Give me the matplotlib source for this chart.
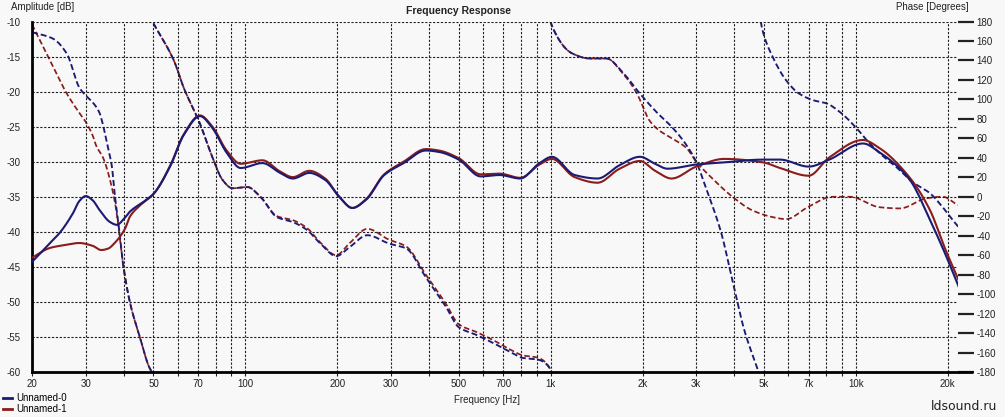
import numpy as np
import matplotlib
matplotlib.use('Agg')
import matplotlib.pyplot as plt
from matplotlib.ticker import FixedLocator, FixedFormatter
from matplotlib.lines import Line2D

plt.rcParams['font.family'] = ['Liberation Sans', 'DejaVu Sans']

# ---------------- data ----------------
series_names = ['Unnamed-0', 'Unnamed-1']

amp_f0 = [20, 22.9, 24.7, 27.2, 28.6, 30, 31.6, 33.3, 36.0, 37.9, 40.3, 41.9, 46.8, 50,
          56.8, 62.8, 71, 78, 86.8, 96.5, 113.7, 130, 143, 162, 182.6, 203, 224, 249, 285,
          330, 390, 430, 500, 590, 680, 795, 920, 1010, 1198, 1425, 1682, 1960, 2200,
          2414, 3000, 3705, 4970, 5640, 7000, 8180, 10540, 11980, 15020, 17480, 19550, 21800]
amp_0 = [-44.3, -41.6, -40.1, -37.4, -35.6, -34.9, -35.5, -36.9, -38.6, -39.0, -38.0, -37.1, -35.6, -34.6,
         -30.6, -26.2, -23.5, -25.2, -28.7, -30.9, -30.2, -31.6, -32.4, -31.6, -32.6, -35.0, -36.6, -35.4, -31.9,
         -30.2, -28.4, -28.6, -29.7, -32.1, -31.9, -32.4, -30.2, -29.3, -31.9, -32.4, -30.5, -29.3, -30.3,
         -31.0, -30.4, -30.1, -29.7, -29.7, -30.7, -29.7, -27.4, -28.7, -32.6, -38.3, -43.0, -48.0]

amp_f1 = [20, 22.9, 25.5, 28.6, 31.6, 33.7, 35.5, 37.3, 40.3, 41.9, 45, 50,
          56.8, 62.8, 71, 78, 86.8, 96.5, 113.7, 130, 143, 162, 182.6, 203, 224, 249, 285,
          330, 390, 430, 500, 590, 680, 795, 920, 1010, 1198, 1425, 1682, 1960, 2200,
          2490, 3000, 3705, 4970, 5640, 7000, 8180, 10540, 11980, 15020, 17480, 19550, 21800]
amp_1 = [-43.7, -42.3, -41.9, -41.6, -42.0, -42.6, -42.4, -41.6, -39.6, -37.8, -36.3, -34.6,
         -30.5, -26.1, -23.4, -25.0, -28.4, -30.3, -29.8, -31.4, -32.2, -31.3, -32.4, -35.0, -36.6, -35.3, -31.8,
         -30.0, -28.2, -28.4, -29.5, -31.8, -31.7, -32.3, -30.4, -29.6, -32.2, -33.0, -31.0, -29.9, -31.3,
         -32.4, -30.7, -29.6, -30.1, -30.9, -32.0, -29.4, -26.9, -28.1, -32.3, -36.9, -42.3, -47.1]

nan = np.nan
# wrapped phase, NaN separates wrap segments
ph_f0 = [20, 23.4, 26.0, 28.6, 30, 31.6, 33.3, 33.9, 35.5, 36.5, 37.4, 38.5, 39.7, 41.9, 45.1, 48.4, 49.4,
         nan,
         50, 58.3, 62.8, 71, 78, 84.3, 90.7, 101.5, 112, 127, 143, 159, 176, 198.5, 219, 251, 295, 336,
         390, 454, 500, 572, 646, 748, 812, 900, 993, 1000,
         nan,
         1000, 1008, 1180, 1342, 1525, 1720, 1960, 2222, 2506, 2786, 3000, 3230, 3620, 3940, 4310, 4776, 4800,
         nan,
         4880, 4925, 5350, 5910, 6510, 7270, 8000, 8865, 10075, 10860, 11980, 13620, 15360, 17480, 19250,
         20770, 21800]
ph_0 = [169, 162.5, 147, 112, 104, 97, 86, 78, 50, 32, 0, -31, -68, -109, -144, -175, -180,
        nan,
        178, 140, 112, 75, 40.5, 17, 8.7, 10, 0, -21, -26, -34, -48, -61, -52, -39.5, -48, -53,
        -82.6, -113, -134, -142, -150, -160.5, -165.6, -167, -176, -180,
        nan,
        180, 176, 147, 142, 142, 128, 106, 87, 71, 53, 35.6, 8.7, -37, -86, -137, -178, -180,
        nan,
        180, 173, 143, 119.5, 106, 99, 96, 87, 70, 58, 44.6, 30, 15, 3.6, -10.8,
        -24, -32]

ph_f1 = [20, 22.9, 26.0, 28.6, 29.7, 31.6, 32.5, 34.2, 36.5, 37.9, 38.5, 39.7, 41.9, 45.1, 48.4, 49.4,
         nan,
         50, 58.3, 62.8, 71, 78, 84.3, 90.7, 101.5, 112, 127, 143, 159, 176, 198.5, 219, 251, 295, 336,
         390, 454, 500, 572, 646, 748, 812, 900, 993, 1000,
         nan,
         1000, 1008, 1180, 1342, 1525, 1720, 1910, 2110, 2270, 2500, 2786, 3000, 3380, 3940, 4580, 5350,
         5910, 6950, 8370, 9550, 11980, 13930, 17070, 19250, 21560]
ph_1 = [177, 140, 106, 86, 79, 63, 52, 40, 10, -17, -34, -68, -109, -144, -175, -180,
        nan,
        178, 140, 112, 75, 40.5, 17, 8.7, 10, 0, -20, -24, -32, -47, -60, -48, -33, -44, -51,
        -80, -110, -131, -139, -147, -158, -163, -165, -176, -180,
        nan,
        180, 176, 147, 142, 142, 127, 107, 78, 68, 60, 50, 36, 19, 0, -14, -21,
        -23, -10.8, 0, 0, -10.8, -12, -1.5, 0, -8.7]

grid_freqs = [20, 30, 40, 50, 60, 70, 80, 90, 100, 200, 300, 400, 500, 600, 700, 800, 900,
              1000, 2000, 3000, 4000, 5000, 6000, 7000, 8000, 9000, 10000, 20000]
labeled = {20: '20', 30: '30', 50: '50', 70: '70', 100: '100', 200: '200', 300: '300',
           500: '500', 700: '700', 1000: '1k', 2000: '2k', 3000: '3k', 5000: '5k',
           7000: '7k', 10000: '10k', 20000: '20k'}
db_ticks = list(range(-60, -9, 5))
phase_ticks = list(range(-180, 181, 20))


# ---- smooth drawing of a measured curve (monotone cubic through the read points, in log-f) ----
def _pchip_seg(x, y, n=12):
    x = np.asarray(x, float)
    y = np.asarray(y, float)
    if len(x) < 3:
        return x, y
    h = np.diff(x)
    d = np.diff(y) / h
    m = np.zeros_like(y)
    for k in range(1, len(x) - 1):
        if d[k - 1] * d[k] > 0:
            w1 = 2 * h[k] + h[k - 1]
            w2 = h[k] + 2 * h[k - 1]
            m[k] = (w1 + w2) / (w1 / d[k - 1] + w2 / d[k])
    m[0] = d[0]
    m[-1] = d[-1]
    xs, ys = [], []
    for k in range(len(x) - 1):
        t = np.linspace(0, 1, n, endpoint=False)
        h00 = 2 * t**3 - 3 * t**2 + 1
        h10 = t**3 - 2 * t**2 + t
        h01 = -2 * t**3 + 3 * t**2
        h11 = t**3 - t**2
        xs.append(x[k] + t * h[k])
        ys.append(h00 * y[k] + h10 * h[k] * m[k] + h01 * y[k + 1] + h11 * h[k] * m[k + 1])
    xs.append([x[-1]])
    ys.append([y[-1]])
    return np.concatenate(xs), np.concatenate(ys)


def smooth(f, v):
    f = np.asarray(f, float)
    v = np.asarray(v, float)
    breaks = np.where(np.isnan(f))[0]
    starts = np.r_[0, breaks + 1]
    ends = np.r_[breaks, len(f)]
    outx, outy = [], []
    for s, e in zip(starts, ends):
        lx, ly = _pchip_seg(np.log10(f[s:e]), v[s:e])
        outx.append(10 ** lx)
        outy.append(ly)
        outx.append([np.nan])
        outy.append([np.nan])
    return np.concatenate(outx[:-1]), np.concatenate(outy[:-1])


# ---------------- style ----------------
BG = '#f8f8f8'
C0 = '#1b1b74'
C1 = '#8a1c1c'
W, H = 1005, 417

fig = plt.figure(figsize=(W / 100, H / 100), dpi=100, facecolor=BG)
ax = fig.add_axes([32 / W, 1 - 372 / H, (958 - 32) / W, (372 - 21.5) / H])
ax.set_xscale('log')
ax.set_xlim(20, 21600)
ax.set_ylim(-60, -10)

ax2 = ax.twinx()
ax2.set_ylim(-180, 180)

# phase (dashed) on ax2
dash = (0, (3.2, 1.6))
ax2.plot(*smooth(ph_f1, ph_1), color=C1, lw=1.25, ls=dash, zorder=2)
ax2.plot(*smooth(ph_f0, ph_0), color=C0, lw=1.35, ls=dash, zorder=3)

# amplitude (solid) on ax, drawn on top
ax.plot(*smooth(amp_f1, amp_1), color=C1, lw=1.5, zorder=4, solid_capstyle='round')
ax.plot(*smooth(amp_f0, amp_0), color=C0, lw=1.5, zorder=5, solid_capstyle='round')
ax.set_zorder(ax2.get_zorder() + 1)
ax.patch.set_visible(False)
ax2.patch.set_visible(False)

# grid
ax.xaxis.set_major_locator(FixedLocator(grid_freqs))
ax.xaxis.set_major_formatter(FixedFormatter([labeled.get(f, '') for f in grid_freqs]))
ax.xaxis.set_minor_locator(FixedLocator([]))
ax.set_yticks(db_ticks)
ax.set_yticklabels([str(v) for v in db_ticks])
ax.grid(True, which='major', color='#1e1e1e', lw=0.8, ls=(0, (2, 1.5)))
ax.tick_params(axis='x', length=3, width=0.8, direction='out', labelsize=7, pad=2, colors='#222222')
ax.tick_params(axis='y', length=0, labelsize=7, pad=8, colors='#222222')

for s in ['top', 'right']:
    ax.spines[s].set_visible(False)
ax.spines['left'].set_linewidth(2)
ax.spines['bottom'].set_linewidth(2)
ax.plot([1.0, 1.0162], [0, 0], transform=ax.transAxes, color='black', lw=2,
        clip_on=False, solid_capstyle='butt')

for s in ax2.spines.values():
    s.set_visible(False)
ax2.set_yticks(phase_ticks)
ax2.set_yticklabels([str(v) for v in phase_ticks])
ax2.tick_params(axis='y', length=11.5, width=1.6, direction='out', labelsize=7, pad=2,
                colors='#222222')

# texts
fig.text(11 / W, 1 - 6.5 / H, 'Amplitude [dB]', fontsize=7, ha='left', va='center', color='#222222')
fig.text(969 / W, 1 - 6.5 / H, 'Phase [Degrees]', fontsize=7, ha='right', va='center', color='#222222')
fig.text(458 / W, 1 - 11 / H, 'Frequency Response', fontsize=7.5, weight='bold', ha='center',
         va='center', color='#222222')
fig.text(487 / W, 1 - 400 / H, 'Frequency [Hz]', fontsize=7, ha='center', va='center', color='#222222')
fig.text(997 / W, 1 - 406 / H, 'ldsound.ru', fontsize=9, ha='right', va='center',
         family='DejaVu Sans', color='#222222')

handles = [Line2D([], [], color=C0, lw=2), Line2D([], [], color=C1, lw=2)]
fig.legend(handles, series_names, loc='upper left', bbox_to_anchor=(2 / W, 1 - 392 / H),
           frameon=False, fontsize=7, handlelength=0.9, handletextpad=0.5, labelspacing=0.12,
           borderaxespad=0, borderpad=0.1)

fig.savefig('out.png', dpi=100, facecolor=BG)
